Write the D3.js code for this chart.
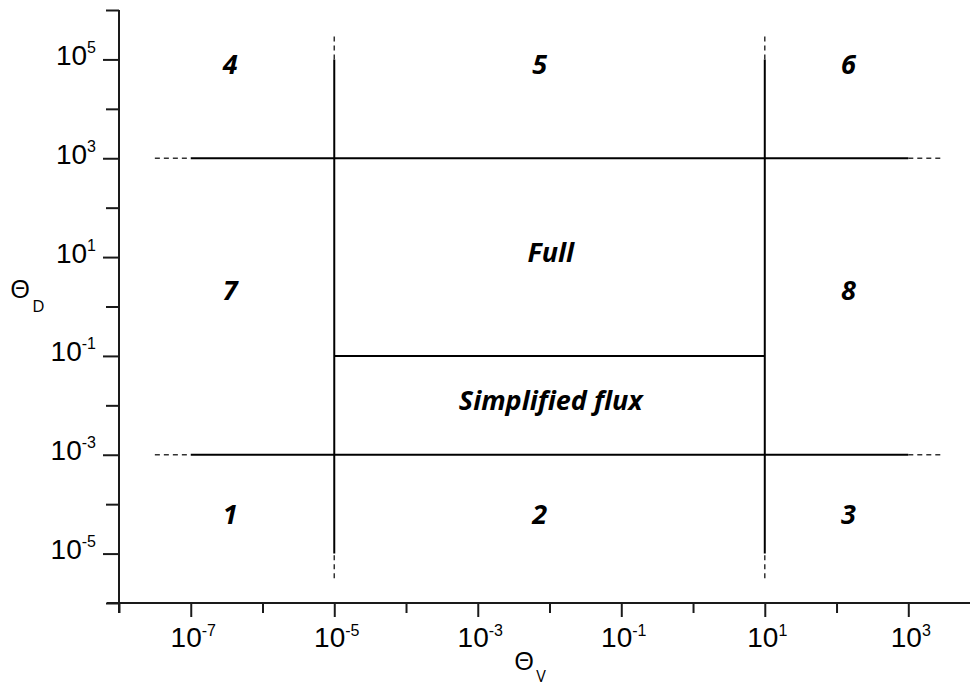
<!DOCTYPE html>
<html>
<head>
<meta charset="utf-8">
<script src="https://cdn.jsdelivr.net/npm/d3@7"></script>
<style>
  body { margin: 0; background: #fff; }
  svg { display: block; font-family: "Open Sans", "Noto Sans", sans-serif; }
</style>
</head>
<body>
<div class="chart-container"></div>
<script>
// tick positions (decades)
var xMajorTicks = [1e-7, 1e-5, 1e-3, 1e-1, 1e1, 1e3];
var xMinorTicks = [1e-8, 1e-6, 1e-4, 1e-2, 1e0, 1e2];
var yMajorTicks = [1e-5, 1e-3, 1e-1, 1e1, 1e3, 1e5];
var yMinorTicks = [1e-6, 1e-4, 1e-2, 1e0, 1e2, 1e4, 1e6];

// regime boundaries (solid) and their dashed extensions
var solidLines = [
  {x1: 1e-7, x2: 1e3, y1: 1e3, y2: 1e3},
  {x1: 1e-7, x2: 1e3, y1: 1e-3, y2: 1e-3},
  {x1: 1e-5, x2: 1e1, y1: 1e-1, y2: 1e-1},
  {x1: 1e-5, x2: 1e-5, y1: 1e-5, y2: 1e5},
  {x1: 1e1, x2: 1e1, y1: 1e-5, y2: 1e5}
];
var dashedLines = [
  {x1: 3.16e-8, x2: 1e-7, y1: 1e3, y2: 1e3},
  {x1: 1e3, x2: 3162, y1: 1e3, y2: 1e3},
  {x1: 3.16e-8, x2: 1e-7, y1: 1e-3, y2: 1e-3},
  {x1: 1e3, x2: 3162, y1: 1e-3, y2: 1e-3},
  {x1: 1e-5, x2: 1e-5, y1: 1e5, y2: 3.16e5},
  {x1: 1e-5, x2: 1e-5, y1: 3.16e-6, y2: 1e-5},
  {x1: 1e1, x2: 1e1, y1: 1e5, y2: 3.16e5},
  {x1: 1e1, x2: 1e1, y1: 3.16e-6, y2: 1e-5}
];

// region labels
var regionNames = ['4', '5', '6', '7', 'Full', '8', 'Simplified flux', '1', '2', '3'];
var regionX = [3.55e-7, 7.3e-3, 147, 3.55e-7, 1.04e-2, 147, 1.04e-2, 3.55e-7, 7.3e-3, 147];
var regionY = [8.07e4, 8.07e4, 8.07e4, 2.15, 12.6, 2.15, 0.0127, 6.3e-5, 6.3e-5, 6.3e-5];

var width = 970, height = 686;

var x = d3.scaleLog().domain([1e-8, Math.pow(10, 3.86)]).range([119, 970]);
var y = d3.scaleLog().domain([1e-6, 1e6]).range([603, 10]);

var svg = d3.select('.chart-container').append('svg')
    .attr('width', width)
    .attr('height', height);

function powerLabel(sel, supDy) {
  sel.each(function (d) {
    var t = d3.select(this);
    var e = Math.round(Math.log10(d));
    t.text(null);
    t.append('tspan').text('10');
    t.append('tspan').attr('dy', supDy).attr('font-size', 16).text(e);
  });
}

// x axis
var xMajor = d3.axisBottom(x).tickValues(xMajorTicks).tickSize(14).tickFormat(function () { return ''; });
var xMinor = d3.axisBottom(x).tickValues(xMinorTicks).tickSize(10).tickFormat(function () { return ''; });

var gx = svg.append('g').attr('class', 'x axis').attr('transform', 'translate(0,603)');
gx.append('g').call(xMinor);
gx.append('g').call(xMajor);
gx.selectAll('.domain').remove();
gx.selectAll('line').attr('stroke', '#1a1a1a').attr('stroke-width', 2);
gx.append('line')
    .attr('x1', x.range()[0] - 12).attr('x2', x.range()[1])
    .attr('stroke', '#1a1a1a').attr('stroke-width', 2);
gx.selectAll('g.tick text')
    .filter(function (d) { return xMajorTicks.indexOf(d) >= 0; })
    .attr('x', 2).attr('y', 44).attr('dy', 0)
    .attr('font-size', 28).attr('fill', '#000')
    .call(powerLabel, -11);

// y axis
var yMajor = d3.axisLeft(y).tickValues(yMajorTicks).tickSize(16).tickFormat(function () { return ''; });
var yMinor = d3.axisLeft(y).tickValues(yMinorTicks).tickSize(13).tickFormat(function () { return ''; });

var gy = svg.append('g').attr('class', 'y axis').attr('transform', 'translate(119,0)');
gy.append('g').call(yMinor);
gy.append('g').call(yMajor);
gy.selectAll('.domain').remove();
gy.selectAll('line').attr('stroke', '#1a1a1a').attr('stroke-width', 2);
gy.append('line')
    .attr('y1', y.range()[1]).attr('y2', y.range()[0] + 10)
    .attr('stroke', '#1a1a1a').attr('stroke-width', 2);
gy.selectAll('g.tick text')
    .filter(function (d) { return yMajorTicks.indexOf(d) >= 0; })
    .attr('x', -23).attr('y', 5).attr('dy', 0)
    .attr('font-size', 28).attr('fill', '#000')
    .call(powerLabel, -12);

// boundaries
svg.append('g').selectAll('line').data(solidLines).enter().append('line')
    .attr('x1', function (d) { return x(d.x1); })
    .attr('x2', function (d) { return x(d.x2); })
    .attr('y1', function (d) { return y(d.y1); })
    .attr('y2', function (d) { return y(d.y2); })
    .attr('stroke', '#000').attr('stroke-width', 2);

svg.append('g').selectAll('line').data(dashedLines).enter().append('line')
    .attr('x1', function (d) { return x(d.x1); })
    .attr('x2', function (d) { return x(d.x2); })
    .attr('y1', function (d) { return y(d.y1); })
    .attr('y2', function (d) { return y(d.y2); })
    .attr('stroke', '#333').attr('stroke-width', 1.5)
    .attr('stroke-dasharray', '5,4');

// region labels
svg.append('g').selectAll('text').data(regionNames).enter().append('text')
    .attr('x', function (d, i) { return x(regionX[i]); })
    .attr('y', function (d, i) { return y(regionY[i]); })
    .attr('dy', '0.36em')
    .attr('text-anchor', 'middle')
    .attr('font-size', 27).attr('font-weight', 'bold').attr('font-style', 'italic')
    .text(function (d) { return d; });

// axis titles
var tD = svg.append('text').attr('x', 10).attr('y', 298).attr('font-size', 26);
tD.append('tspan').text('\u0398');
tD.append('tspan').attr('dx', 2).attr('dy', 14).attr('font-size', 17).text('D');

var tV = svg.append('text').attr('x', 514).attr('y', 670).attr('font-size', 26);
tV.append('tspan').text('\u0398');
tV.append('tspan').attr('dx', 2).attr('dy', 12).attr('font-size', 16).text('V');
</script>
</body>
</html>
